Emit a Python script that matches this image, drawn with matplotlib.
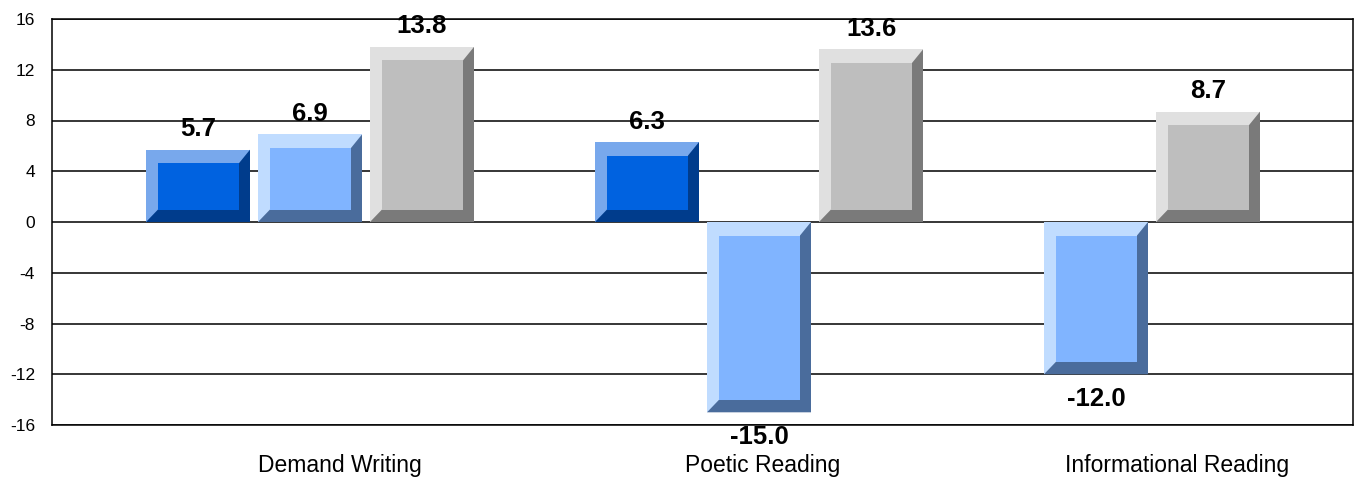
import matplotlib
matplotlib.use("Agg")
import matplotlib.pyplot as plt
from matplotlib.patches import Polygon, Rectangle

# ---- data ----
categories = ["Demand Writing", "Poetic Reading", "Informational Reading"]
series_dark = [5.7, 6.3, None]
series_light = [6.9, -15.0, -12.0]
series_gray = [13.8, 13.6, 8.7]
y_ticks = [-16, -12, -8, -4, 0, 4, 8, 12, 16]

# ---- styles (face, light bevel, dark bevel) ----
styles = [
    ("#0062E0", "#78A8EC", "#003C8C"),
    ("#80B4FF", "#C0DCFF", "#4A6C9C"),
    ("#BEBEBE", "#E0E0E0", "#7A7A7A"),
]
all_series = [series_dark, series_light, series_gray]

W, H = 1355, 479
fig = plt.figure(figsize=(W / 100, H / 100), dpi=100)
ax_left, ax_right, ax_top, ax_bot = 52, 1353, 19, 425
ax = fig.add_axes([ax_left / W, (H - ax_bot) / H, (ax_right - ax_left) / W, (ax_bot - ax_top) / H])
ax.set_xlim(0, ax_right - ax_left)
ax.set_ylim(-16, 16)
px_per_unit = (ax_bot - ax_top) / 32.0

FONT = "Liberation Sans"

# grid
ax.set_yticks(y_ticks)
ax.set_yticklabels([str(t) for t in y_ticks], fontsize=12.5, family=FONT)
ax.tick_params(axis="y", length=0, pad=12.2)
ax.set_xticks([])
ax.yaxis.grid(True, color="black", linewidth=1.1, zorder=0)
ax.set_axisbelow(True)
for s in ax.spines.values():
    s.set_color("black")
    s.set_linewidth(1.1)

# layout
start = 94
bar_w = 104
step = 112
group_gap = 121
inset_l, inset_r, inset_t, inset_b = 12, 11, 13.5, 12.5

x = start
for ci, cat in enumerate(categories):
    last_end = x
    for si, ser in enumerate(all_series):
        v = ser[ci]
        if v is None:
            continue
        face, light, dark = styles[si]
        x0, x1 = x, x + bar_w
        ytop, ybot = max(v, 0), min(v, 0)
        t = inset_t / px_per_unit
        b = inset_b / px_per_unit
        ax.bar(x0, v, width=bar_w, align="edge", color=light, linewidth=0, zorder=2)
        ax.add_patch(Polygon([(x0, ybot), (x1, ybot), (x1, ytop), (x1 - inset_r, ytop - t),
                              (x1 - inset_r, ybot + b), (x0 + inset_l, ybot + b)],
                             closed=True, facecolor=dark, linewidth=0, zorder=3))
        ax.add_patch(Rectangle((x0 + inset_l, ybot + b), bar_w - inset_l - inset_r,
                               (ytop - t) - (ybot + b), facecolor=face, linewidth=0, zorder=4))
        xc = x0 + bar_w / 2
        if v >= 0:
            ax.annotate(f"{v:.1f}", (xc, v), xytext=(0, 9.7), textcoords="offset points",
                        ha="center", va="baseline", fontsize=18.5, fontweight="bold",
                        family=FONT, zorder=6)
        else:
            ax.annotate(f"{v:.1f}", (xc, v), xytext=(0, -23), textcoords="offset points",
                        ha="center", va="baseline", fontsize=18.5, fontweight="bold",
                        family=FONT, zorder=6)
        last_end = x1
        x += step
    x = last_end + group_gap

# category labels
label_pos = [288, 711, 1125]
for pos, cat in zip(label_pos, categories):
    ax.text(pos, -(472 - ax_bot) / (ax_bot - ax_top), cat, transform=ax.get_xaxis_transform(),
            ha="center", va="baseline", fontsize=16.5, family=FONT)

fig.savefig("out.png", dpi=100)
